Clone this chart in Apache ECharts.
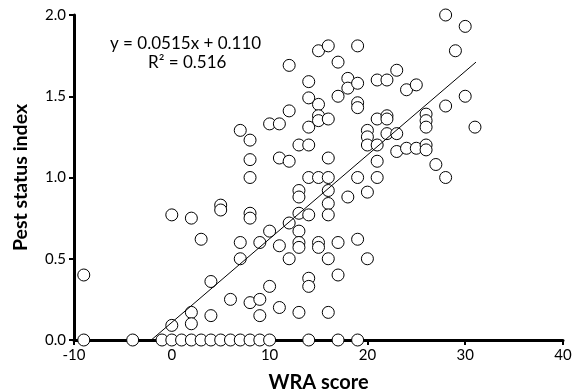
<!DOCTYPE html>
<html>
<head>
<meta charset="utf-8">
<script src="https://cdn.jsdelivr.net/npm/echarts@6/dist/echarts.min.js"></script>
<style>
  html, body { margin: 0; padding: 0; background: #fff; }
  #chart { width: 583px; height: 392px; }
</style>
</head>
<body>
<div id="chart"></div>
<script>
"use strict";

// WRA score (x) for every site
var wra_score = [
    -9, -4, -1, 0, 1, 2, 3, 4, 5, 6, 7, 8, 9, 10, 14, 17, 19,
    -9, 0, 2, 2, 4, 4, 6, 7, 7, 3, 0, 2, 5, 5,
    7, 8, 8, 8, 8, 8, 8,
    9, 9, 9,
    10, 10, 10,
    11, 11, 11, 11,
    12, 12, 12, 12, 12,
    13, 13, 13, 13, 13, 13, 13, 13,
    14, 14, 14, 14, 14, 14, 14, 14,
    15, 15, 15, 15, 15, 15, 15,
    16, 16, 16, 16, 16, 16, 16, 16, 16,
    17, 17, 17, 17,
    18, 18, 18,
    19, 19, 19, 19, 19, 19,
    20, 20, 20, 20, 20,
    21, 21, 21, 21, 21,
    22, 22, 22, 22,
    23, 23, 23,
    24, 24,
    25, 25,
    26, 26, 26, 26, 26,
    27,
    28, 28, 28,
    29,
    30, 30,
    31
];

// pest status index (y), same order as wra_score
var pest_index = [
    0, 0, 0, 0, 0, 0, 0, 0, 0, 0, 0, 0, 0, 0, 0, 0, 0,
    0.40, 0.09, 0.17, 0.10, 0.36, 0.15, 0.25, 0.50, 0.60, 0.62, 0.77, 0.75, 0.83, 0.80,
    1.29, 1.23, 1.11, 1.00, 0.78, 0.75, 0.23,
    0.60, 0.25, 0.15,
    1.33, 0.67, 0.33,
    1.33, 1.12, 0.58, 0.20,
    1.69, 1.41, 1.10, 0.72, 0.50,
    1.20, 0.92, 0.88, 0.78, 0.67, 0.60, 0.57, 0.17,
    1.59, 1.49, 1.31, 1.20, 1.00, 0.77, 0.38, 0.33,
    1.78, 1.45, 1.38, 1.35, 1.00, 0.60, 0.57,
    1.81, 1.36, 1.12, 1.00, 0.92, 0.84, 0.77, 0.50, 0.17,
    1.71, 1.50, 0.60, 0.40,
    1.61, 1.55, 0.88,
    1.81, 1.58, 1.46, 1.43, 1.00, 0.62,
    1.29, 1.25, 1.20, 0.91, 0.50,
    1.60, 1.36, 1.20, 1.10, 1.00,
    1.60, 1.38, 1.36, 1.27,
    1.66, 1.27, 1.16,
    1.54, 1.18,
    1.57, 1.18,
    1.39, 1.35, 1.31, 1.20, 1.17,
    1.08,
    2.00, 1.44, 1.00,
    1.78,
    1.93, 1.50,
    1.31
];

// ends of the fitted line
var fit_x = [-2.1, 31.1];
var fit_y = [0, 1.71];

var fit_text = ["y = 0.0515x + 0.110", "R\u00b2 = 0.516"];

var x_ticks = [-10, 40, 10];
var y_ticks = [0, 2, 0.5];

//拼出散点数据
var points = [];
for (let i = 0; i < wra_score.length; i++) {
    points.push([wra_score[i], pest_index[i]]);
}
var fit_line = [];
for (let i = 0; i < fit_x.length; i++) {
    fit_line.push([fit_x[i], fit_y[i]]);
}

var font = "Lato";

const option = {
    animation: false,
    backgroundColor: '#fff',
    grid: { left: 74, right: 20, top: 15, bottom: 52, outerBoundsMode: 'none' },
    xAxis: {
        type: 'value',
        min: x_ticks[0],
        max: x_ticks[1],
        interval: x_ticks[2],
        name: 'WRA score',
        nameLocation: 'middle',
        nameGap: 33,
        nameTextStyle: { fontFamily: font, fontWeight: 'bold', fontSize: 20, color: '#000' },
        axisLine: { onZero: false, lineStyle: { color: '#000', width: 3 } },
        axisTick: { show: true, length: 5, lineStyle: { color: '#000', width: 2 } },
        axisLabel: { fontFamily: font, fontSize: 15, color: '#000', margin: 8 },
        splitLine: { show: false }
    },
    yAxis: {
        type: 'value',
        min: y_ticks[0],
        max: y_ticks[1],
        interval: y_ticks[2],
        name: 'Pest status index',
        nameLocation: 'middle',
        nameGap: 43,
        nameTextStyle: { fontFamily: font, fontWeight: 'bold', fontSize: 19.5, color: '#000' },
        axisLine: { show: true, onZero: false, lineStyle: { color: '#000', width: 3 } },
        axisTick: { show: true, length: 5, lineStyle: { color: '#000', width: 2 } },
        axisLabel: {
            fontFamily: font, fontSize: 15, color: '#000', margin: 8,
            formatter: function (v) { return v.toFixed(1); }
        },
        splitLine: { show: false }
    },
    series: [
        {
            type: 'scatter',
            data: points,
            symbol: 'circle',
            symbolSize: 12,
            clip: false,
            itemStyle: { color: '#fff', borderColor: '#000', borderWidth: 1, opacity: 1 },
            z: 2
        },
        {
            type: 'line',
            data: fit_line,
            showSymbol: false,
            symbol: 'none',
            lineStyle: { color: '#000', width: 1 },
            z: 3
        }
    ],
    graphic: [
        {
            type: 'text', left: 110, top: 35,
            style: { text: fit_text[0], fontFamily: font, fontSize: 17, fill: '#000' }
        },
        {
            type: 'text', left: 148, top: 54,
            style: { text: fit_text[1], fontFamily: font, fontSize: 17, fill: '#000' }
        }
    ]
};

var chart_object = echarts.init(document.getElementById('chart'), null, { renderer: 'canvas' });
chart_object.setOption(option);
</script>
</body>
</html>
